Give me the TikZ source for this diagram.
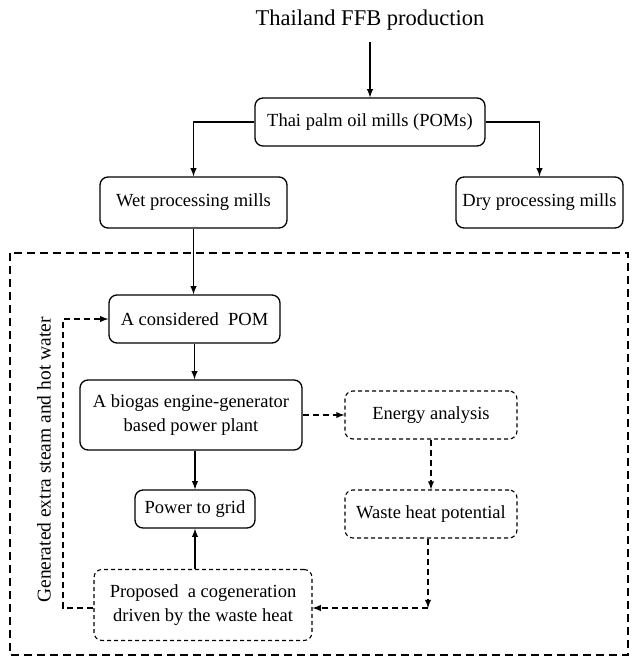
\documentclass[tikz,border=0pt]{standalone}
\usepackage{fontspec}
\setmainfont{Liberation Serif}
\usetikzlibrary{arrows}

\tikzset{
  box/.style={draw, line width=1.3pt, rounded corners=8pt, align=center,
              inner sep=0pt, font=\fontsize{18.5}{23.4}\selectfont},
  dbox/.style={box, line width=1.1pt, dash pattern=on 4pt off 3pt},
  arr/.style={->, >=latex, line width=1.8pt},
  darr/.style={arr, dash pattern=on 6pt off 4pt}
}

\begin{document}
\begin{tikzpicture}[x=1pt, y=-1pt]
\useasboundingbox (0,0) rectangle (632,659);

\node (title) at (370,20) {\fontsize{22.5}{26}\selectfont Thailand FFB production};
\node[box, minimum width=230pt, minimum height=48pt] (poms) at (370,122) {Thai palm oil mills (POMs)};
\node[box, minimum width=187pt, minimum height=51pt] (wet) at (193.5,202.5) {Wet processing mills};
\node[box, minimum width=167pt, minimum height=51pt] (dry) at (539.5,202.5) {Dry processing mills};

\draw[line width=2pt, dash pattern=on 8pt off 5pt] (10,253) rectangle (628,655);

\node[box, minimum width=171pt, minimum height=48pt] (pom) at (194.5,319) {A considered~ POM};
\node[box, minimum width=222pt, minimum height=70pt] (biogas) at (191,415) {A biogas engine-generator\\based power plant};
\node[box, minimum width=120pt, minimum height=38pt] (grid) at (195,509) {Power to grid};
\node[dbox, minimum width=218pt, minimum height=71pt] (cogen) at (203,605) {Proposed~ a cogeneration\\driven by the waste heat};
\node[dbox, minimum width=172pt, minimum height=48pt] (energy) at (431,415) {Energy analysis};
\node[dbox, minimum width=172pt, minimum height=48pt] (waste) at (431,514) {Waste heat potential};
\node[rotate=90, font=\fontsize{19.5}{23}\selectfont] (steam) at (44,460) {Generated extra steam and hot water};

\coordinate (corner) at (428,608);
\coordinate (loop) at (63,608);

\draw[arr] (title.south |- 0,42) -- (poms.north);
\draw[arr] (poms.west) -| (wet.north);
\draw[arr] (poms.east) -| (dry.north);
\draw[arr] (wet.south) -- (wet.south |- pom.north);
\draw[arr] (pom.south) -- (pom.south |- biogas.north);
\draw[arr] (biogas.south -| grid.north) -- (grid.north);
\draw[arr] (grid.south |- cogen.north) -- (grid.south);

\draw[darr] (biogas.east) -- (energy.west);
\draw[darr] (energy.south) -- (waste.north);
\draw[darr] (waste.south -| corner) -- (corner);
\draw[darr] (corner) -- (corner -| cogen.east);
\draw[darr] (cogen.west |- loop) -- (loop) |- (pom.west);
\end{tikzpicture}
\end{document}
